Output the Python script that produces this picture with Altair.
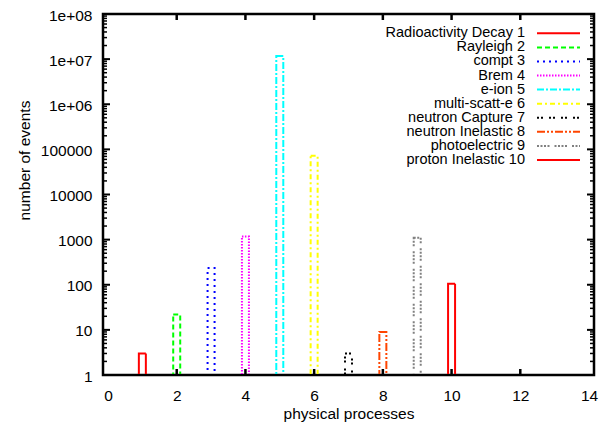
import altair as alt
import pandas as pd

# ---- data ----
processes = [1, 2, 3, 4, 5, 6, 7, 8, 9, 10]
names = [
    "Radioactivity Decay 1", "Rayleigh 2", "compt 3", "Brem 4", "e-ion 5",
    "multi-scatt-e 6", "neutron Capture 7", "neutron Inelastic 8",
    "photoelectric 9", "proton Inelastic 10",
]
counts = [3, 22, 235, 1170, 11800000, 72000, 3, 9, 1100, 105]
colors = ["#ff0000", "#00ff00", "#0000ff", "#ff00ff", "#00ffff",
          "#ffff00", "#000000", "#ff4500", "#808080", "#ff0000"]
dashes = [[1, 0], [5, 3], [2, 4], [1.5, 1.5], [7, 2, 2, 2], [5, 3, 2, 3],
          [2, 2, 2, 6], [8, 2, 2, 2, 2, 2], [2, 1.5, 2, 1.5, 2, 1.5, 2, 5], [1, 0]]

x_tick_labels = [0, 2, 4, 6, 8, 10, 12, 14]
x_tick_marks = [2, 4, 6, 8, 10, 12]
y_tick_labels = [1, 10, 100, 1000, 10000, 100000, 1000000, 10000000, 100000000]
y_minor_marks = [m * 10 ** k for k in range(8) for m in range(2, 10)]

FONT = "Liberation Sans"
W, H = 491, 361

df = pd.DataFrame({"process": processes, "name": names, "count": counts})
leg_df = pd.DataFrame({"name": names, "row": list(range(len(names)))})

xscale = alt.Scale(domain=[0, 14], nice=False, zero=False)
yscale = alt.Scale(type="log", domain=[1, 100000000], nice=False)
stroke_enc = alt.Stroke("name:N", scale=alt.Scale(domain=names, range=colors), legend=None)
dash_enc = alt.StrokeDash("name:N", scale=alt.Scale(domain=names, range=dashes), legend=None)

x_axis = alt.Axis(values=x_tick_labels, ticks=False, tickSize=0, domain=False,
                  grid=False, labelFont=FONT, labelFontSize=15.5, labelColor="black",
                  labelPadding=13, labelFlush=False, labelOverlap=False,
                  titleFont=FONT, titleFontSize=15.5,
                  titleFontWeight="normal", titleColor="black",
                  titleX=W / 2, titleY=38, titleBaseline="middle")
y_axis = alt.Axis(values=y_tick_labels, ticks=False, tickSize=0, domain=False,
                  grid=False, labelFont=FONT, labelFontSize=15.5, labelColor="black",
                  labelPadding=11, labelBaseline="middle", labelOffset=1,
                  labelFlush=False, labelOverlap=False,
                  labelExpr="datum.value >= 1000000 ? '1e+0' + round(log(datum.value) / LN10) : format(datum.value, 'd')",
                  titleFont=FONT, titleFontSize=15.5,
                  titleFontWeight="normal", titleColor="black",
                  titleX=-79, titleY=146, titleBaseline="middle", titleAngle=-90)
XT = "physical processes"
YT = "number of events"

bars = alt.Chart(df).mark_bar(size=7, strokeWidth=2, fill="transparent").encode(
    x=alt.X("process:Q", scale=xscale, axis=x_axis, title=XT),
    y=alt.Y("count:Q", scale=yscale, axis=y_axis, title=YT),
    y2=alt.datum(1),
    stroke=stroke_enc,
    strokeDash=dash_enc,
)

base_line = alt.Chart(df).mark_rule(color="black", strokeWidth=2).encode(
    y=alt.Y(datum=1, scale=yscale, axis=y_axis, title=YT), x=alt.value(0), x2=alt.value(W)
)

xt = pd.DataFrame({"t": x_tick_marks})
x_bottom = alt.Chart(xt).mark_rule(color="black", strokeWidth=2.5).encode(
    x=alt.X("t:Q", scale=xscale, axis=x_axis, title=XT), y=alt.value(H), y2=alt.value(H - 6))
x_top = alt.Chart(xt).mark_rule(color="black", strokeWidth=2.5).encode(
    x=alt.X("t:Q", scale=xscale, axis=x_axis, title=XT), y=alt.value(0), y2=alt.value(6))

ymaj = pd.DataFrame({"v": y_tick_labels})
ymin = pd.DataFrame({"v": y_minor_marks})


def ytick(data, x0, x1, sw):
    return alt.Chart(data).mark_rule(color="black", strokeWidth=sw).encode(
        y=alt.Y("v:Q", scale=yscale, axis=y_axis, title=YT),
        x=alt.value(x0), x2=alt.value(x1))


inner = alt.layer(
    bars, base_line, x_bottom, x_top,
    ytick(ymaj, 0, 7, 2), ytick(ymin, 0, 4, 1.5),
    ytick(ymaj, W, W - 7, 2), ytick(ymin, W, W - 4, 1.5),
)

leg_y = alt.Y("row:Q", scale=alt.Scale(domain=[0, 9], range=[19.3, 146], nice=False, zero=False),
              axis=None)
leg_text = alt.Chart(leg_df).mark_text(align="right", baseline="middle", font=FONT,
                                        fontSize=14.5, color="black").encode(
    text="name:N", x=alt.value(422), y=leg_y)
leg_line = alt.Chart(leg_df).mark_rule(strokeWidth=2).encode(
    x=alt.value(434), x2=alt.value(477), y=leg_y, stroke=stroke_enc, strokeDash=dash_enc)

chart = alt.layer(inner, leg_text, leg_line).resolve_scale(y="independent").properties(
    width=W, height=H,
    padding={"left": 95, "top": 6, "right": 10, "bottom": 48},
    autosize=alt.AutoSizeParams(type="none"),
    background="white",
).configure_view(stroke="black", strokeWidth=2.5)

chart.save("out.html", embed_options={"renderer": "svg", "actions": False})
